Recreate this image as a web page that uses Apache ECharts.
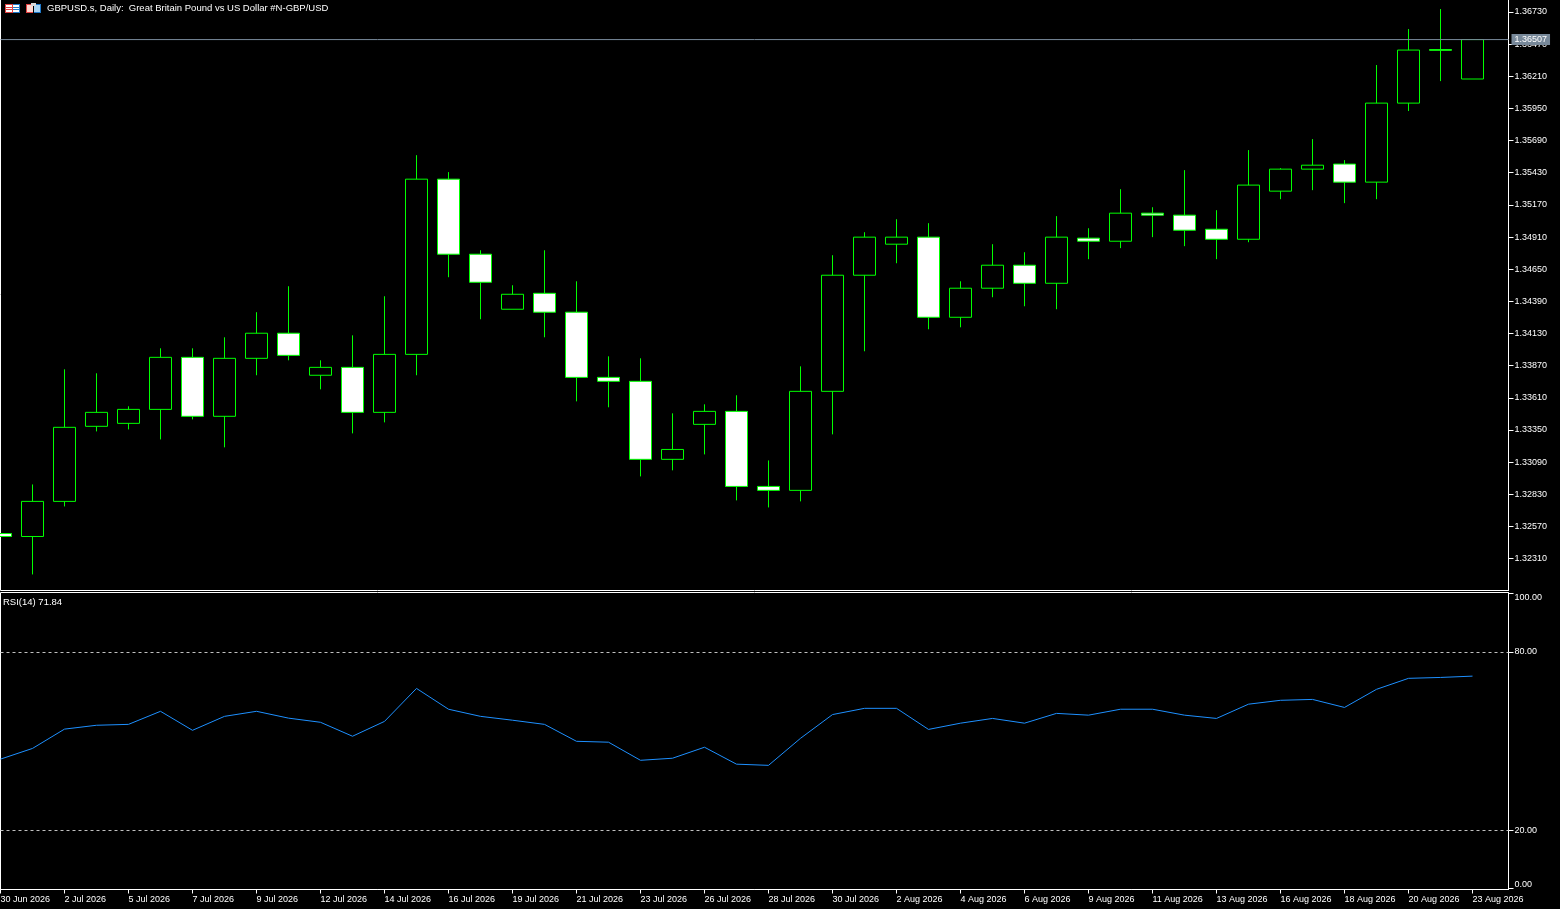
<!DOCTYPE html>
<html><head><meta charset="utf-8">
<style>html,body{margin:0;padding:0;background:#000}#c{width:1560px;height:909px}</style>
<script src="https://cdn.jsdelivr.net/npm/echarts@6/dist/echarts.min.js"></script>
</head><body><div id="c"></div>
<script>
const dateLabels=['30 Jun 2026','2 Jul 2026','5 Jul 2026','7 Jul 2026','9 Jul 2026','12 Jul 2026','14 Jul 2026','16 Jul 2026','19 Jul 2026','21 Jul 2026','23 Jul 2026','26 Jul 2026','28 Jul 2026','30 Jul 2026','2 Aug 2026','4 Aug 2026','6 Aug 2026','9 Aug 2026','11 Aug 2026','13 Aug 2026','16 Aug 2026','18 Aug 2026','20 Aug 2026','23 Aug 2026'];
const priceTicks=[1.3231,1.3257,1.3283,1.3309,1.33350,1.3361,1.3387,1.3413,1.3439,1.3465,1.3491,1.3517,1.3543,1.3569,1.3595,1.3621,1.3647,1.3673];
const rsiTicks=[0,20,80,100];
const openP=[1.32512,1.32488,1.32772,1.33379,1.33403,1.33516,1.33937,1.33460,1.33929,1.34132,1.33792,1.33856,1.33492,1.33961,1.35378,1.34771,1.34326,1.34455,1.34302,1.33775,1.33743,1.33112,1.33395,1.33500,1.32893,1.32861,1.33662,1.34601,1.34852,1.34909,1.34261,1.34496,1.34682,1.34536,1.34901,1.34876,1.35103,1.35087,1.34973,1.34892,1.35281,1.35459,1.35500,1.35354,1.35993,1.36426,1.36188];
const closeP=[1.32488,1.32772,1.33371,1.33492,1.33516,1.33937,1.33460,1.33929,1.34132,1.33953,1.33856,1.33492,1.33961,1.35378,1.34771,1.34544,1.34447,1.34302,1.33775,1.33743,1.33112,1.33192,1.33500,1.32893,1.32861,1.33662,1.34601,1.34909,1.34909,1.34261,1.34496,1.34682,1.34536,1.34909,1.34876,1.35103,1.35087,1.34965,1.34892,1.35330,1.35459,1.35491,1.35354,1.35993,1.36422,1.36420,1.36507];
const lowP=[1.32488,1.32181,1.32731,1.33338,1.33354,1.33273,1.33435,1.33209,1.33792,1.33913,1.33678,1.33322,1.33411,1.33792,1.34585,1.34245,1.34326,1.34099,1.33581,1.33533,1.32974,1.33023,1.33152,1.32780,1.32723,1.32772,1.33314,1.33986,1.34698,1.34164,1.34180,1.34423,1.34350,1.34326,1.34731,1.34820,1.34909,1.34836,1.34731,1.34868,1.35216,1.35289,1.35184,1.35216,1.35929,1.36171,1.36188];
const highP=[1.32512,1.32909,1.33840,1.33808,1.33541,1.34010,1.34010,1.34099,1.34302,1.34512,1.33913,1.34115,1.34431,1.35572,1.35435,1.34803,1.34520,1.34803,1.34552,1.33945,1.33929,1.33484,1.33557,1.33630,1.33103,1.33864,1.34763,1.34949,1.35054,1.35022,1.34552,1.34852,1.34787,1.35079,1.34981,1.35297,1.35151,1.35451,1.35127,1.35613,1.35467,1.35702,1.35532,1.36301,1.36592,1.36754,1.36507];
const rsiValues=[43.9,47.5,54.0,55.3,55.6,60.0,53.6,58.3,60.0,57.7,56.3,51.6,56.6,67.7,60.7,58.3,57.0,55.6,49.9,49.6,43.5,44.2,47.9,42.2,41.8,50.9,58.9,61.0,61.0,53.9,56.0,57.6,56.0,59.3,58.7,60.7,60.7,58.7,57.6,62.4,63.7,64.0,61.3,67.4,71.1,71.4,71.84];
const currentPrice=1.36507;
const xMax=47.125;
const font='"Liberation Sans"';
const candleData=openP.map((o,i)=>[i,o,closeP[i],lowP[i],highP[i]]);
const rsiData=rsiValues.map((v,i)=>[i,v]);
const xTicks=dateLabels.map((d,i)=>i*2);
const chart=echarts.init(document.getElementById('c'),null,{renderer:'canvas'});
const labelBase={color:'#fff',fontFamily:font,fontSize:9};
const axLine={show:true,onZero:false,lineStyle:{color:'#fff',width:1}};
const red='#e04040', blue='#1f78c8';
const r=(x,y,w,h,fill)=>({type:'rect',shape:{x,y,width:w,height:h},style:{fill},silent:true});
chart.setOption({
  animation:false,backgroundColor:'#000',
  title:[
    {text:'GBPUSD.s, Daily:  Great Britain Pound vs US Dollar #N-GBP/USD',left:47,top:3.5,padding:0,textStyle:{color:'#fff',fontFamily:font,fontSize:9.5,fontWeight:'normal'}},
    {text:'RSI(14) 71.84',left:3,top:597,padding:0,textStyle:{color:'#fff',fontFamily:font,fontSize:9.5,fontWeight:'normal'}}
  ],
  grid:[
    {left:0.5,top:-1,width:1508,height:591.5,show:true,borderColor:'#fff',borderWidth:1,backgroundColor:'#000',outerBoundsMode:'none'},
    {left:0.5,top:592.5,width:1508,height:297,show:true,borderColor:'#fff',borderWidth:1,backgroundColor:'#000',outerBoundsMode:'none'}
  ],
  xAxis:[
    {gridIndex:0,type:'value',min:0,max:xMax,show:false},
    {gridIndex:1,type:'value',min:0,max:xMax,splitLine:{show:false},axisLine:axLine,
     axisTick:{show:true,inside:false,length:4,customValues:xTicks,lineStyle:{color:'#fff'}},
     axisLabel:Object.assign({},labelBase,{customValues:xTicks,align:'left',margin:6,formatter:v=>dateLabels[Math.round(v/2)]||''})}
  ],
  yAxis:[
    {gridIndex:0,type:'value',position:'right',min:1.320512,max:1.368351,splitLine:{show:false},axisLine:axLine,
     axisTick:{show:true,inside:false,length:5,customValues:priceTicks,lineStyle:{color:'#fff'}},
     axisLabel:Object.assign({},labelBase,{customValues:priceTicks,margin:6,padding:[1,0,0,0],formatter:v=>v.toFixed(5)})},
    {gridIndex:1,type:'value',position:'right',min:0,max:100,splitLine:{show:false},axisLine:axLine,
     axisTick:{show:true,inside:false,length:5,customValues:[0.5,20,80,99.7],lineStyle:{color:'#fff'}},
     axisLabel:Object.assign({},labelBase,{customValues:rsiTicks,margin:6,padding:[1,0,0,0],verticalAlignMinLabel:'bottom',verticalAlignMaxLabel:'top',formatter:v=>v.toFixed(2)})}
  ],
  series:[
    {type:'candlestick',xAxisIndex:0,yAxisIndex:0,data:candleData,barWidth:22,silent:true,z:2,
     itemStyle:{color:'#000',color0:'#fff',borderColor:'#00ff00',borderColor0:'#00ff00',borderColorDoji:'#00ff00',borderWidth:1}},
    {type:'line',xAxisIndex:0,yAxisIndex:0,z:3,symbol:'none',silent:true,clip:false,
     data:[[0,currentPrice],[xMax,currentPrice]],
     lineStyle:{color:'#778899',width:1},
     endLabel:{show:true,distance:3,formatter:()=>currentPrice.toFixed(5),color:'#fff',backgroundColor:'#778899',fontFamily:font,fontSize:9,padding:[1,3,1,3]}},
    {type:'line',xAxisIndex:1,yAxisIndex:1,data:rsiData,symbol:'none',silent:true,lineStyle:{color:'#1e90ff',width:1},
     markLine:{silent:true,symbol:'none',animation:false,label:{show:false},
       lineStyle:{color:'#c0c0c0',width:1,type:[3,3]},
       data:[{yAxis:80},{yAxis:20}]}}
  ],
  graphic:[
    r(5,4,15,9,'#fff'),
    r(5,4,8,1,red),r(5,12,8,1,red),r(5,4,1,9,red),r(12,4,1,9,red),
    r(6,7,6,1,red),r(6,9,6,1,red),
    r(13,4,7,1,blue),r(13,12,7,1,blue),r(19,4,1,9,blue),
    r(13,7,6,1,blue),r(13,9,6,1,blue),
    r(26,4,7,9,'#ffd8d0'),r(26,4,1,9,red),r(26,12,7,1,red),r(26,4,7,1,red),
    r(34,4,7,9,'#a8d4f4'),r(40,4,1,9,blue),r(34,12,7,1,blue),r(34,4,7,1,blue),
    r(31,3,5,3,'#d8d8d8')
  ]
});
</script></body></html>
